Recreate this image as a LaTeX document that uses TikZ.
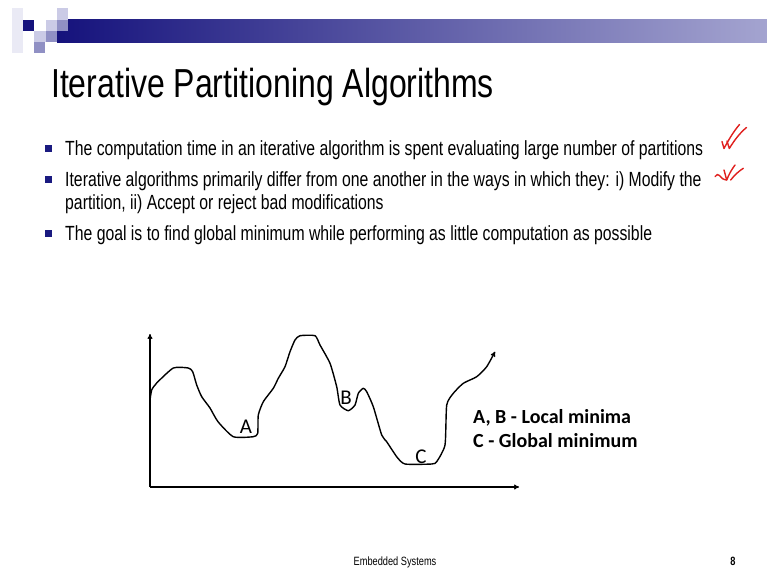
\documentclass[tikz,border=0pt]{standalone}
\usepackage{fontspec}
\setmainfont[FakeStretch=0.77]{Liberation Sans}
\newfontfamily\titlefont[FakeStretch=0.79]{Liberation Sans}
\newfontfamily\calfont{Carlito}
\usetikzlibrary{arrows.meta}
\definecolor{navy}{HTML}{15127C}
\definecolor{lavend}{HTML}{A4A4D0}
\definecolor{lavl}{HTML}{CBCBE6}
\definecolor{lavm}{HTML}{9090C4}
\definecolor{bulletc}{HTML}{1A1A80}
\definecolor{inkred}{HTML}{E0201E}
\begin{document}
\begin{tikzpicture}[x=1pt,y=-1pt,
  bodytext/.style={anchor=base west,inner sep=0pt,font=\fontsize{20.5}{24}\selectfont},
  bul/.style={fill=bulletc},
  lbl/.style={inner sep=0pt,font=\calfont\fontsize{21}{23}\selectfont},
  legend/.style={anchor=base west,inner sep=0pt,font=\calfont\bfseries\fontsize{20}{22}\selectfont},
  curve/.style={line width=1.4pt,line join=round,line cap=round},
  axis/.style={line width=1.3pt,-{To[length=5pt,width=5pt]}},
  check/.style={inkred,line width=1.4pt,line cap=round,line join=round}]
\useasboundingbox (0,0) rectangle (767,578);
\fill[white] (0,0) rectangle (767,578);
% header
\fill[lavl!40] (12,8) rectangle (23,53);
\shade[left color=navy,right color=lavend] (57,20) rectangle (767,43);
\fill[navy] (23,20) rectangle (34,31);
\fill[lavl] (46,20) rectangle (57,31);
\fill[lavl] (57,8) rectangle (68,20);
\fill[lavm] (57,20) rectangle (68,31);
\fill[lavl] (34,31) rectangle (46,42);
\fill[lavm] (46,31) rectangle (57,42);
\fill[lavm] (34,42) rectangle (45,53);
% title
\node[anchor=base west,inner sep=0pt,font=\titlefont\fontsize{40.5}{44}\selectfont] (title) at (51,97.3) {Iterative Partitioning Algorithms};
% bullets
\node[bul,minimum size=7pt,inner sep=0pt] (b1) at (48.5,148.5) {};
\node[bul,minimum size=7pt,inner sep=0pt] (b2) at (48.5,179.5) {};
\node[bul,minimum size=7pt,inner sep=0pt] (b3) at (48.5,233.5) {};
\node[bodytext] (t1) at (65,155) {The computation time in an iterative algorithm is spent evaluating large number of partitions};
\node[bodytext] (t2) at (65,186) {Iterative algorithms primarily differ from one another in the ways in which they: i) Modify the};
\node[bodytext] (t2b) at (65,209.5) {partition, ii) Accept or reject bad modifications};
\node[bodytext] (t3) at (65,240.7) {The goal is to find global minimum while performing as little computation as possible};
% check marks
\draw[check] (722,141.5) -- (724,148.5) .. controls (729,139) and (734,131) .. (739.5,124.5);
\draw[check] (727,141) -- (729.3,148.5) .. controls (735,139) and (741,132) .. (746.5,127.5);
\draw[check] (715,176.7) .. controls (716.5,174.5) and (718,173.5) .. (719.5,175.5) .. controls (721,178) and (723,179.5) .. (726.7,180) .. controls (729,174) and (732,169) .. (735,165);
\draw[check] (724,170) -- (726.7,180);
\draw[check] (730.7,180) .. controls (734.5,175) and (739,171) .. (743.3,168.3);
% axes
\coordinate (origin) at (150,487);
\coordinate (ytop) at (150,334);
\coordinate (xend) at (519,487);
\draw[axis] (origin) -- (ytop);
\draw[axis] (origin) -- (xend);
% curve
\draw[curve,-{To[length=5pt,width=5pt]}] plot[smooth,tension=0.35] coordinates {
 (150,400) (151.7,390) (156.7,383) (173.3,368) (188.3,368) (192.7,371.7) (196.7,385)
 (201.7,396.7) (210,408) (218,421.7) (233.3,436.7) (253.3,436.7) (257.7,433.3)
 (258.3,415) (263.3,401.7) (273.3,388.3) (278.3,378.3) (285,366.7) (290,351.7)
 (295,340) (300,335.7) (315,335.7) (320,345) (330,363.3) (336.7,386.7) (340,405)
 (348.3,410.7) (355,405) (358.3,393.3) (363.3,388.3) (366.7,391.7) (373.3,406.7)
 (381.7,435) (386.7,441.7) (396.7,456.7) (405,464) (431.7,464) (436.7,461.7)
 (445,445) (446.7,405) (453.3,393.3) (463.3,383.3) (476.7,376.7) (486.7,366.7) (495,351.7)};
\node[lbl] (la) at (246,427) {A};
\node[lbl] (lb) at (346,398) {B};
\node[lbl] (lc) at (421,457) {C};
\node[legend] (leg1) at (473,423) {A, B - Local minima};
\node[legend] (leg2) at (473,447) {C - Global minimum};
% footer
\node[anchor=base,inner sep=0pt,font=\fontsize{12}{14}\selectfont] (foot) at (395,565) {Embedded Systems};
\node[anchor=base,inner sep=0pt,font=\bfseries\fontsize{12}{14}\selectfont] (page) at (733,565) {8};
\end{tikzpicture}
\end{document}
